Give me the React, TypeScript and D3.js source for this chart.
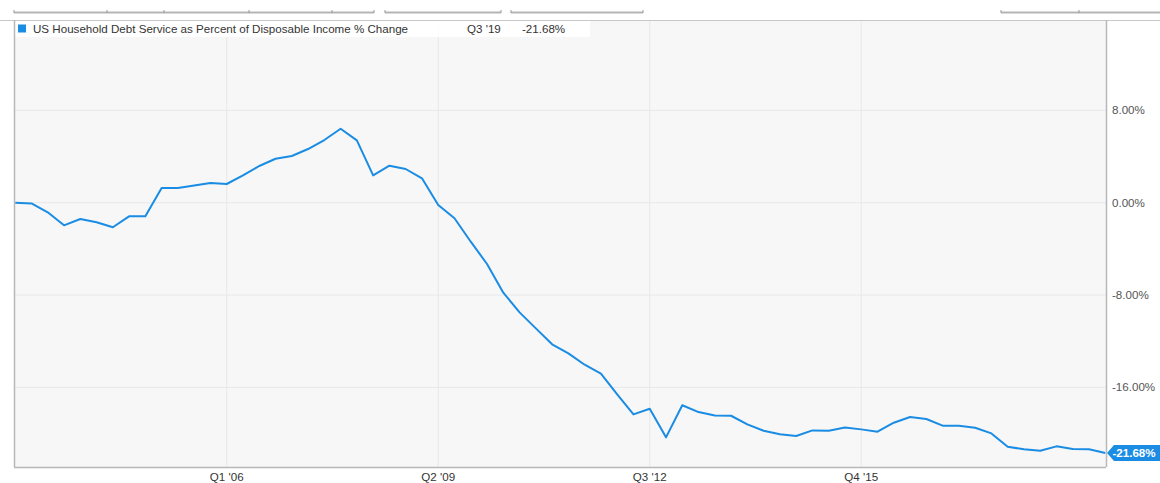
import * as d3 from "d3";

// quarterly observations, Q4 '02 .. Q3 '19
const quarters = [
  "Q4 '02",
  "Q1 '03", "Q2 '03", "Q3 '03", "Q4 '03",
  "Q1 '04", "Q2 '04", "Q3 '04", "Q4 '04",
  "Q1 '05", "Q2 '05", "Q3 '05", "Q4 '05",
  "Q1 '06", "Q2 '06", "Q3 '06", "Q4 '06",
  "Q1 '07", "Q2 '07", "Q3 '07", "Q4 '07",
  "Q1 '08", "Q2 '08", "Q3 '08", "Q4 '08",
  "Q1 '09", "Q2 '09", "Q3 '09", "Q4 '09",
  "Q1 '10", "Q2 '10", "Q3 '10", "Q4 '10",
  "Q1 '11", "Q2 '11", "Q3 '11", "Q4 '11",
  "Q1 '12", "Q2 '12", "Q3 '12", "Q4 '12",
  "Q1 '13", "Q2 '13", "Q3 '13", "Q4 '13",
  "Q1 '14", "Q2 '14", "Q3 '14", "Q4 '14",
  "Q1 '15", "Q2 '15", "Q3 '15", "Q4 '15",
  "Q1 '16", "Q2 '16", "Q3 '16", "Q4 '16",
  "Q1 '17", "Q2 '17", "Q3 '17", "Q4 '17",
  "Q1 '18", "Q2 '18", "Q3 '18", "Q4 '18",
  "Q1 '19", "Q2 '19", "Q3 '19",
];

const pctChange = [
  0.0,
  -0.06, -0.83, -1.96, -1.41,
  -1.7, -2.13, -1.18, -1.18,
  1.27, 1.27, 1.5, 1.71,
  1.62, 2.37, 3.18, 3.81,
  4.05, 4.65, 5.43, 6.41,
  5.4, 2.37, 3.21, 2.92,
  2.11, -0.2, -1.35, -3.38,
  -5.31, -7.8, -9.5, -10.89,
  -12.27, -13.05, -14.04, -14.82,
  -16.6, -18.34, -17.85, -20.33,
  -17.55, -18.14, -18.44, -18.46,
  -19.21, -19.76, -20.07, -20.22,
  -19.73, -19.76, -19.47, -19.64,
  -19.84, -19.06, -18.57, -18.74,
  -19.32, -19.32, -19.5, -19.99,
  -21.14, -21.37, -21.49, -21.11,
  -21.34, -21.37, -21.68,
];

const xTickLabels = ["Q1 '06", "Q2 '09", "Q3 '12", "Q4 '15"];
const yTicks = [8, 0, -8, -16];
const seriesName = "US Household Debt Service as Percent of Disposable Income % Change";

const W = 1160;
const H = 483;
const left = 14;
const right = 1106;
const top = 20;
const bottom = 467;
const font = "'Liberation Sans', Arial, sans-serif";
const fs = 11.6;
const blue = "#1a8ce3";

export default function App() {
  const x = d3.scaleLinear().domain([0, quarters.length - 1]).range([15.2, 1105.3]);
  const y = d3.scaleLinear().domain([-22.9, 15.83]).range([bottom, top]);

  const line = d3
    .line<number>()
    .x((_, i) => x(i))
    .y((d) => y(d));

  const last = pctChange[pctChange.length - 1];
  const lastY = y(last);
  const fmt = (v: number) => v.toFixed(2) + "%";

  // strip of range buttons cut off at the top of the screenshot
  const tabSegs = [
    [14, 374],
    [385, 501],
    [511, 643],
    [1001, 1162],
  ];
  const tabTicks = [14, 107, 164, 249, 332, 374, 385, 501, 511, 643, 1001, 1079];

  return (
    <svg
      width={W}
      height={H}
      style={{ position: "absolute", left: 0, top: 0, background: "#fff" }}
      fontFamily={font}
    >
      {tabSegs.map(([a, b], i) => (
        <line key={i} x1={a} x2={b} y1={12.5} y2={12.5} stroke="#b5b5b5" strokeWidth={2} />
      ))}
      {tabTicks.map((t, i) => (
        <line key={i} x1={t} x2={t} y1={10} y2={13} stroke="#999" />
      ))}

      <rect x={left} y={top} width={right - left} height={bottom - top} fill="#f7f7f7" />

      {yTicks.map((t) => (
        <line key={t} x1={left} x2={right} y1={y(t)} y2={y(t)} stroke="#e8e8e8" strokeWidth={1} />
      ))}
      {xTickLabels.map((q) => {
        const xi = x(quarters.indexOf(q));
        return <line key={q} x1={xi} x2={xi} y1={top} y2={bottom} stroke="#e8e8e8" strokeWidth={1} />;
      })}

      <path d={line(pctChange) ?? ""} fill="none" stroke={blue} strokeWidth={2} strokeLinejoin="round" />

      {/* legend */}
      <rect x={left + 1} y={top + 1} width={575} height={16} fill="#fff" opacity={0.9} />
      <rect x={18} y={24.5} width={8} height={8} fill={blue} />
      <text x={33} y={33} fontSize={fs} fill="#333">
        {seriesName}
      </text>
      <text x={467} y={33} fontSize={fs} fill="#333">
        {quarters[quarters.length - 1]}
      </text>
      <text x={522} y={33} fontSize={fs} fill="#333">
        {fmt(last)}
      </text>

      {/* frame */}
      <line x1={0} x2={W} y1={top + 0.5} y2={top + 0.5} stroke="#c8c8c8" />
      <line x1={left + 0.5} x2={left + 0.5} y1={top} y2={bottom} stroke="#b8b8b8" strokeWidth={1.5} />
      <line x1={left} x2={right} y1={bottom + 0.5} y2={bottom + 0.5} stroke="#b8b8b8" strokeWidth={1.5} />
      <line x1={right + 0.5} x2={right + 0.5} y1={top} y2={bottom} stroke="#b8b8b8" strokeWidth={1.5} />

      {/* right axis */}
      {yTicks.map((t) => (
        <text key={t} x={1112} y={y(t) + 4} fontSize={fs} fill="#555">
          {fmt(t)}
        </text>
      ))}

      {/* bottom axis */}
      {xTickLabels.map((q) => (
        <text key={q} x={x(quarters.indexOf(q))} y={481} fontSize={fs} fill="#333" textAnchor="middle">
          {q}
        </text>
      ))}

      {/* last value tag */}
      <path
        d={`M${right + 1},${lastY} L${right + 8},${lastY - 8} H${W} V${lastY + 8} H${right + 8} Z`}
        fill={blue}
      />
      <text x={1134} y={lastY + 4.5} fontSize={fs} fontWeight="bold" fill="#fff" textAnchor="middle">
        {fmt(last)}
      </text>
    </svg>
  );
}
